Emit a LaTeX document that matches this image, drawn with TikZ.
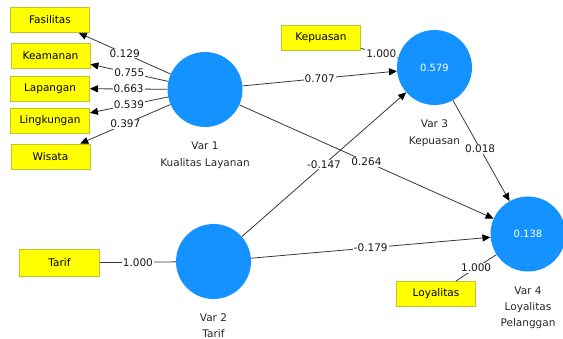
\documentclass[tikz,border=0pt]{standalone}
\usepackage{fontspec}
\setmainfont{DejaVu Sans}
\usetikzlibrary{arrows.meta}
\definecolor{lvblue}{RGB}{20,146,255}
\definecolor{boxyellow}{RGB}{255,255,0}
\definecolor{boxedge}{RGB}{196,196,40}
\definecolor{linegray}{RGB}{56,56,56}
\begin{document}
\begin{tikzpicture}[x=1pt,y=-1pt,
 ind/.style={draw=boxedge, fill=boxyellow, line width=0.8pt, minimum width=79pt, minimum height=25pt, inner sep=0pt, font=\fontsize{10.5}{12}\selectfont},
 lv/.style={circle, fill=lvblue, minimum size=75pt, inner sep=0pt, text=white, font=\fontsize{10}{12}\selectfont},
 lvlabel/.style={align=center, inner sep=0pt, text=black!85},
 conn/.style={draw=linegray, line width=0.8pt},
 arr/.style={conn, -{Triangle[length=8pt,width=7pt,color=black]}},
 coef/.style={fill=white, inner sep=1pt, text=black!90, font=\fontsize{10.5}{12}\selectfont}
]
\useasboundingbox (0,0) rectangle (563,339);
% indicators
\node[ind] (f)  at (50,20)    {Fasilitas};
\node[ind] (k)  at (50.5,55.5) {Keamanan};
\node[ind] (lp) at (50,88.5)  {Lapangan};
\node[ind] (lk) at (50,121)   {Lingkungan};
\node[ind] (w)  at (50.5,156.5) {Wisata};
\node[ind] (kp) at (321,38)   {Kepuasan};
\node[ind, minimum width=80pt, minimum height=27pt] (t) at (59.5,263) {Tarif};
\node[ind] (ly) at (436,294)  {Loyalitas};
% latent variables
\node[lv] (v1) at (205,89.5) {};
\node[lv] (v2) at (213.5,261.5) {};
\node[lv] (v3) at (434.5,67.5) {0.579};
\node[lv] (v4) at (528,234) {0.138};
% latent labels
\node[lvlabel, font=\fontsize{10.5}{17}\selectfont] (l1) at (205,155.5) {Var 1\\Kualitas Layanan};
\node[lvlabel, font=\fontsize{10.5}{16}\selectfont] (l2) at (213.5,326) {Var 2\\Tarif};
\node[lvlabel, font=\fontsize{10.5}{17}\selectfont] (l3) at (434.5,133) {Var 3\\Kepuasan};
\node[lvlabel, font=\fontsize{10.5}{16}\selectfont] (l4) at (528,308) {Var 4\\Loyalitas\\Pelanggan};
% outer loadings
\draw[arr] (v1) -- node[coef]{0.129} (f);
\draw[arr] (v1) -- node[coef]{0.755} (k);
\draw[arr] (v1) -- node[coef]{0.663} (lp);
\draw[arr] (v1) -- node[coef]{0.539} (lk);
\draw[arr] (v1) -- node[coef]{0.397} (w);
\draw[conn] (t) -- node[coef]{1.000} (v2);
\draw[conn] (kp) -- node[coef,pos=0.55]{1.000} (v3);
\draw[conn] (ly) -- node[coef]{1.000} (v4);
% path coefficients
\draw[arr] (v1) -- node[coef]{0.707} (v3);
\draw[arr] (v2) -- node[coef]{-0.147} (v3);
\draw[arr] (v1) -- node[coef]{0.264} (v4);
\draw[arr] (v3) -- node[coef,pos=0.48]{0.018} (v4);
\draw[arr] (v2) -- node[coef]{-0.179} (v4);
\end{tikzpicture}
\end{document}
